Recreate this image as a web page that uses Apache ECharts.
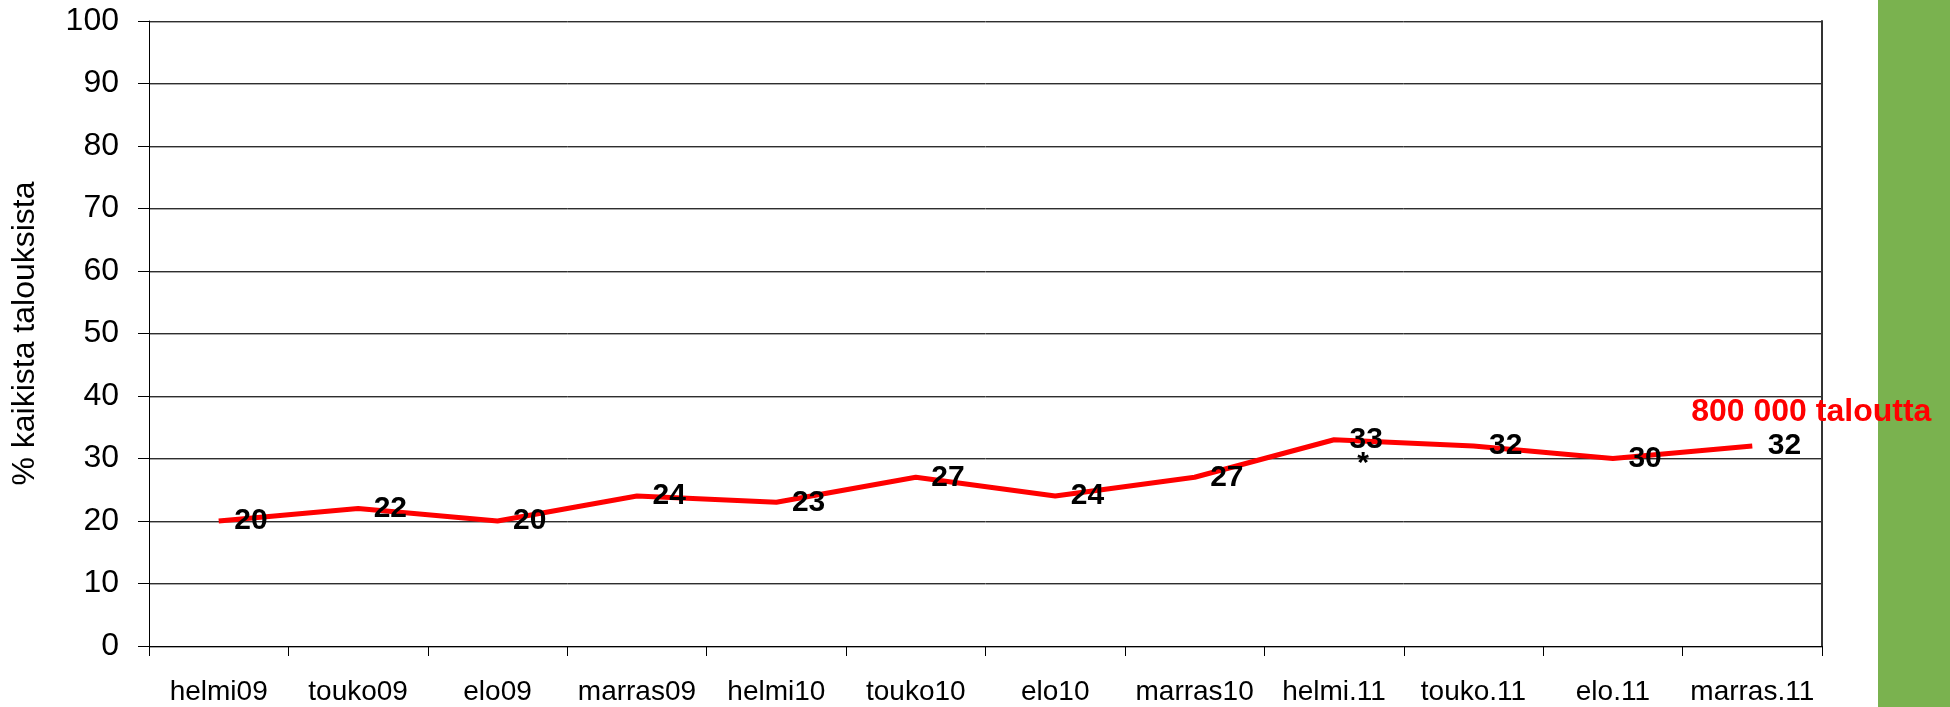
<!DOCTYPE html>
<html>
<head>
<meta charset="utf-8">
<script src="https://cdn.jsdelivr.net/npm/echarts@6/dist/echarts.min.js"></script>
<style>
  html, body { margin: 0; padding: 0; background: #fff; }
  #chart { width: 1950px; height: 707px; }
</style>
</head>
<body>
<div id="chart"></div>
<script>
const categories = ["helmi09", "touko09", "elo09", "marras09", "helmi10", "touko10",
  "elo10", "marras10", "helmi.11", "touko.11", "elo.11", "marras.11"];
const values = [20, 22, 20, 24, 23, 27, 24, 27, 33, 32, 30, 32];
const yAxisName = "% kaikista talouksista";
const starCategory = "helmi.11";
const starValue = 33;
const noteText = "800 000 taloutta";
const noteCategory = "marras.11";
const noteValue = 32;

const font = "Liberation Sans, Arial, sans-serif";
const chart = echarts.init(document.getElementById("chart"));

const option = {
  animation: false,
  backgroundColor: "#fff",
  grid: { left: 149, right: 128, top: 21, bottom: 61 },
  graphic: [
    {
      type: "rect",
      right: 0,
      top: 0,
      z: 0,
      shape: { width: 72, height: 707 },
      style: { fill: "#7ab24f" },
    },
  ],
  xAxis: {
    type: "category",
    data: categories,
    boundaryGap: true,
    axisLine: { lineStyle: { color: "#000", width: 1 } },
    axisTick: { show: true, length: 10, lineStyle: { color: "#000" } },
    axisLabel: {
      color: "#000",
      fontFamily: font,
      fontSize: 28,
      margin: 32,
      interval: 0,
    },
    splitLine: { show: false },
  },
  yAxis: [
    {
      type: "value",
      min: 0,
      max: 100,
      interval: 10,
      name: yAxisName,
      nameLocation: "middle",
      nameRotate: 90,
      nameGap: 108,
      nameTextStyle: { color: "#000", fontFamily: font, fontSize: 32 },
      axisLine: { show: true, lineStyle: { color: "#000", width: 1 } },
      axisTick: { show: true, length: 11, lineStyle: { color: "#000" } },
      axisLabel: { color: "#000", fontFamily: font, fontSize: 32, margin: 30 },
      splitLine: {
        show: true,
        lineStyle: {
          color: "#2e2e2e",
          width: 1,
          shadowColor: "#a8a8a8",
          shadowOffsetY: 1,
          shadowBlur: 0,
        },
      },
    },
    {
      type: "value",
      position: "right",
      min: 0,
      max: 100,
      interval: 10,
      axisLine: { show: true, lineStyle: { color: "#333", width: 2 } },
      axisTick: { show: false },
      axisLabel: { show: false },
      splitLine: { show: false },
    },
  ],
  series: [
    {
      type: "line",
      data: values,
      yAxisIndex: 0,
      symbol: "circle",
      symbolSize: 1,
      showSymbol: true,
      itemStyle: { color: "rgba(255,0,0,0)" },
      z: 3,
      lineStyle: { color: "#ff0000", width: 5 },
      label: {
        show: true,
        position: "right",
        distance: 15,
        color: "#000",
        fontFamily: font,
        fontWeight: "bold",
        fontSize: 30,
      },
      markPoint: {
        symbol: "circle",
        symbolSize: 0,
        silent: true,
        data: [
          {
            coord: [starCategory, starValue],
            label: {
              show: true,
              formatter: "*",
              position: "inside",
              offset: [29, 24],
              color: "#000",
              fontFamily: font,
              fontWeight: "bold",
              fontSize: 30,
            },
          },
          {
            coord: [noteCategory, noteValue],
            label: {
              show: true,
              formatter: noteText,
              position: "inside",
              offset: [59, -34],
              color: "#ff0000",
              fontFamily: font,
              fontWeight: "bold",
              fontSize: 32,
            },
          },
        ],
      },
    },
  ],
};

chart.setOption(option);
</script>
</body>
</html>
